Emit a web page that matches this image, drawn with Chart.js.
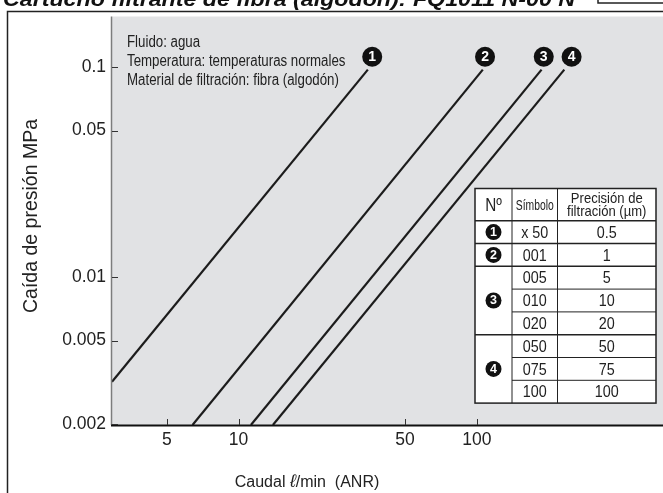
<!DOCTYPE html>
<html><head><meta charset="utf-8">
<script src="https://cdn.jsdelivr.net/npm/chart.js@4"></script>
<style>html,body{margin:0;padding:0;background:#fff;}#wrap{position:relative;width:663px;height:493px;overflow:hidden}</style>
</head><body><div id="wrap"><canvas id="c" width="663" height="493"></canvas></div>
<script>
// ---- data ----
const flowLine1 = [2.944, 34.9];
const pressLine1 = [0.00318, 0.0976];
const flowLine2 = [6.41, 106];
const pressLine2 = [0.00198, 0.0976];
const flowLine3 = [11.27, 187];
const pressLine3 = [0.00198, 0.0976];
const flowLine4 = [13.94, 233];
const pressLine4 = [0.00198, 0.0976];
const lineNumbers = ['1', '2', '3', '4'];

const xTickValues = [5, 10, 50, 100];
const xTickLabels = ['5', '10', '50', '100'];
const yTickValues = [0.002, 0.005, 0.01, 0.05, 0.1];
const yTickLabels = ['0.002', '0.005', '0.01', '0.05', '0.1'];

const titleText = 'Cartucho filtrante de fibra (algodón): FQ1011 N-00 N';
const xTitleParts = ['Caudal ', 'ℓ', '/min  (ANR)'];
const yTitle = 'Caída de presión MPa';
const noteLines = ['Fluido: agua', 'Temperatura: temperaturas normales', 'Material de filtración: fibra (algodón)'];

const tableHeader = ['Nº', 'Símbolo', 'Precisión de', 'filtración (µm)'];
const tableNo = ['1', '2', '3', '3', '3', '4', '4', '4'];
const tableSymbol = ['x 50', '001', '005', '010', '020', '050', '075', '100'];
const tablePrecision = ['0.5', '1', '5', '10', '20', '50', '75', '100'];

// ---- chart ----
const FAM = '"Liberation Sans", Arial, Helvetica, sans-serif';
const font = (size, weight = 'normal', style = 'normal') => `${style} ${weight} ${size}px ${FAM}`;

function narrowText(ctx, text, x, y, size, align, sx, weight) {
  ctx.save();
  ctx.font = font(size, weight || 'normal');
  ctx.textAlign = align;
  ctx.translate(x, y);
  ctx.scale(sx, 1);
  ctx.fillText(text, 0, 0);
  ctx.restore();
}

function numCircle(ctx, x, y, r, txt, size) {
  ctx.save();
  ctx.fillStyle = '#111';
  ctx.beginPath(); ctx.arc(x, y, r, 0, Math.PI * 2); ctx.fill();
  ctx.fillStyle = '#fff';
  ctx.font = font(size, 'bold');
  ctx.textAlign = 'center'; ctx.textBaseline = 'middle';
  ctx.fillText(txt, x, y + 0.5);
  ctx.restore();
}

const flows = [flowLine1, flowLine2, flowLine3, flowLine4];
const presses = [pressLine1, pressLine2, pressLine3, pressLine4];

const decor = {
  id: 'decor',
  beforeDraw(chart) {
    const { ctx, chartArea: a } = chart;
    ctx.save();
    ctx.fillStyle = '#fff'; ctx.fillRect(0, 0, chart.width, chart.height);
    ctx.fillStyle = '#e1e2e4'; ctx.fillRect(a.left, a.top, a.right - a.left, a.bottom - a.top);
    ctx.restore();
  },
  afterDatasetsDraw(chart, args, opts) {
    const { ctx, chartArea: a, scales: { x, y } } = chart;
    ctx.save();
    // axis lines
    ctx.strokeStyle = '#7d7d7d'; ctx.lineWidth = 1.5;
    ctx.beginPath(); ctx.moveTo(a.left - 0.5, a.top); ctx.lineTo(a.left - 0.5, a.bottom); ctx.stroke();
    ctx.strokeStyle = '#111'; ctx.lineWidth = 2;
    ctx.beginPath(); ctx.moveTo(a.left - 1, a.bottom + 0.5); ctx.lineTo(a.right, a.bottom + 0.5); ctx.stroke();
    // inside tick marks
    ctx.strokeStyle = '#333'; ctx.lineWidth = 1;
    yTickValues.forEach(v => { const p = Math.round(y.getPixelForValue(v)) + 0.5; ctx.beginPath(); ctx.moveTo(a.left, p); ctx.lineTo(a.left + 6, p); ctx.stroke(); });
    xTickValues.forEach(v => { const p = Math.round(x.getPixelForValue(v)) + 0.5; ctx.beginPath(); ctx.moveTo(p, a.bottom); ctx.lineTo(p, a.bottom - 6); ctx.stroke(); });
    // notes
    ctx.fillStyle = '#222';
    noteLines.forEach((t, i) => narrowText(ctx, t, 127, 47 + i * 19, 16, 'left', 0.83));
    // line number circles
    opts.circles.forEach((c, i) => numCircle(ctx, x.getPixelForValue(c[0]), y.getPixelForValue(c[1]), 10, lineNumbers[i], 14));
    // table
    drawTable(ctx);
    ctx.restore();
  },
  afterDraw(chart) {
    const { ctx } = chart;
    ctx.save();
    // outer frame
    ctx.strokeStyle = '#222'; ctx.lineWidth = 1.5;
    ctx.beginPath(); ctx.moveTo(7.5, 493); ctx.lineTo(7.5, 11.5); ctx.lineTo(663, 11.5); ctx.stroke();
    // title (cut off at top)
    ctx.fillStyle = '#111';
    ctx.font = font(21, 'bold', 'italic');
    ctx.textAlign = 'left'; ctx.textBaseline = 'alphabetic';
    const w = ctx.measureText(titleText).width;
    ctx.save(); ctx.translate(3, 6); ctx.scale(572 / w, 1); ctx.fillText(titleText, 0, 0); ctx.restore();
    ctx.lineWidth = 1.5; ctx.strokeRect(598, -20, 80, 23);
    // x axis title with italic script litre sign
    ctx.fillStyle = '#222'; ctx.textBaseline = 'alphabetic'; ctx.textAlign = 'left';
    const f0 = font(16), f1 = font(18, 'normal', 'italic');
    ctx.font = f0; const w0 = ctx.measureText(xTitleParts[0]).width, w2 = ctx.measureText(xTitleParts[2]).width;
    ctx.font = f1; const w1 = ctx.measureText(xTitleParts[1]).width;
    let sx = 307 - (w0 + w1 + w2) / 2;
    const by = 487;
    ctx.font = f0; ctx.fillText(xTitleParts[0], sx, by); sx += w0;
    ctx.font = f1; ctx.fillText(xTitleParts[1], sx, by); sx += w1;
    ctx.font = f0; ctx.fillText(xTitleParts[2], sx, by);
    // y axis title
    ctx.textAlign = 'center'; ctx.textBaseline = 'middle';
    ctx.save(); ctx.translate(32, 216); ctx.rotate(-Math.PI / 2);
    ctx.font = font(19.5); ctx.fillText(yTitle, 0, 0); ctx.restore();
    ctx.restore();
  }
};

function drawTable(ctx) {
  const cx = [475, 512, 557.5, 656];
  const top = 188.5, hh = 32.2, rh = 22.8;
  const n = tableSymbol.length;
  const bottom = top + hh + n * rh;
  ctx.save();
  ctx.fillStyle = '#fff'; ctx.fillRect(cx[0], top, cx[3] - cx[0], bottom - top);
  ctx.strokeStyle = '#222';
  for (let i = 0; i < n; i++) {
    const yy = top + hh + i * rh;
    const full = i === 0 || tableNo[i] !== tableNo[i - 1];
    ctx.lineWidth = full ? 1.5 : 1;
    ctx.beginPath(); ctx.moveTo(full ? cx[0] : cx[1], yy); ctx.lineTo(cx[3], yy); ctx.stroke();
  }
  ctx.lineWidth = 1;
  [cx[1], cx[2]].forEach(xx => { ctx.beginPath(); ctx.moveTo(xx, top); ctx.lineTo(xx, bottom); ctx.stroke(); });
  ctx.lineWidth = 1.5; ctx.strokeRect(cx[0], top, cx[3] - cx[0], bottom - top);
  // header
  ctx.fillStyle = '#222'; ctx.textBaseline = 'alphabetic';
  narrowText(ctx, tableHeader[0], (cx[0] + cx[1]) / 2, 211, 18, 'center', 0.85);
  narrowText(ctx, tableHeader[1], (cx[1] + cx[2]) / 2, 210, 14, 'center', 0.74);
  narrowText(ctx, tableHeader[2], (cx[2] + cx[3]) / 2, 203, 15, 'center', 0.87);
  narrowText(ctx, tableHeader[3], (cx[2] + cx[3]) / 2, 216, 15, 'center', 0.87);
  // rows
  for (let i = 0; i < n; i++) {
    const base = top + hh + i * rh + 17;
    narrowText(ctx, tableSymbol[i], (cx[1] + cx[2]) / 2, base, 16.5, 'center', 0.87);
    narrowText(ctx, tablePrecision[i], (cx[2] + cx[3]) / 2, base, 16.5, 'center', 0.87);
  }
  // group circles
  let s = 0;
  for (let i = 1; i <= n; i++) {
    if (i === n || tableNo[i] !== tableNo[s]) {
      const yc = top + hh + (s + i) / 2 * rh;
      numCircle(ctx, (cx[0] + cx[1]) / 2, yc, 8, tableNo[s], 12.5);
      s = i;
    }
  }
  ctx.restore();
}

new Chart(document.getElementById('c'), {
  type: 'scatter',
  data: {
    datasets: flows.map((f, i) => ({
      data: f.map((v, j) => ({ x: v, y: presses[i][j] })),
      showLine: true, borderColor: '#1c1c1c', borderWidth: 2.2, pointRadius: 0, fill: false, tension: 0
    }))
  },
  options: {
    responsive: false, animation: false, devicePixelRatio: 1,
    layout: { padding: { top: 12, left: 0, right: 0, bottom: 0 } },
    plugins: {
      legend: { display: false }, tooltip: { enabled: false },
      decor: { circles: [[36.4, 0.1124], [108.3, 0.1124], [191, 0.1124], [250, 0.1124]] }
    },
    scales: {
      x: {
        type: 'logarithmic', min: 2.944, max: 604.7,
        grid: { display: false, drawTicks: false }, border: { display: false },
        afterBuildTicks: s => { s.ticks = xTickValues.map(v => ({ value: v })); },
        afterFit: s => { s.height = 68; },
        ticks: { autoSkip: false, maxRotation: 0, padding: 5, color: '#222', font: { family: FAM, size: 17.5 },
          callback: v => { const k = xTickValues.indexOf(v); return k >= 0 ? xTickLabels[k] : ''; } }
      },
      y: {
        type: 'logarithmic', min: 0.00198, max: 0.1747,
        grid: { display: false, drawTicks: false }, border: { display: false },
        afterBuildTicks: s => { s.ticks = yTickValues.map(v => ({ value: v })); },
        afterFit: s => { s.width = 112; },
        ticks: { autoSkip: false, padding: 6, color: '#222', font: { family: FAM, size: 17.5 },
          callback: v => { const k = yTickValues.indexOf(v); return k >= 0 ? yTickLabels[k] : ''; } }
      }
    }
  },
  plugins: [decor]
});
</script></body></html>
